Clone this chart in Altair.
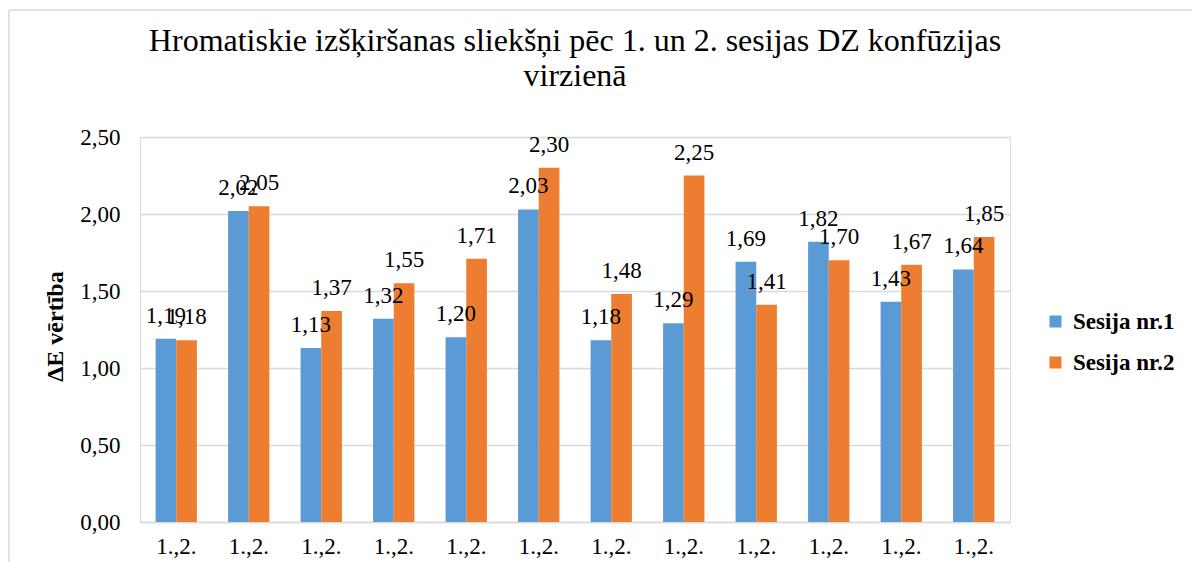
import altair as alt
import pandas as pd

categories = list(range(12))
cat_label = "1.,2."
series_names = ["Sesija nr.1", "Sesija nr.2"]
s1 = [1.19, 2.02, 1.13, 1.32, 1.20, 2.03, 1.18, 1.29, 1.69, 1.82, 1.43, 1.64]
s2 = [1.18, 2.05, 1.37, 1.55, 1.71, 2.30, 1.48, 2.25, 1.41, 1.70, 1.67, 1.85]
colors = ["#5B9BD5", "#ED7D31"]
title_lines = ["Hromatiskie izšķiršanas sliekšņi  pēc 1. un 2. sesijas DZ konfūzijas", "virzienā"]
y_title = "ΔE vērtība"

rows = []
for i, c in enumerate(categories):
    rows.append({"idx": c, "series": series_names[0], "value": s1[i]})
    rows.append({"idx": c, "series": series_names[1], "value": s2[i]})
df = pd.DataFrame(rows)
df["label"] = df["value"].map(lambda v: f"{v:.2f}".replace(".", ","))

FONT = "Liberation Serif, Times New Roman, serif"
W, H = 870, 385

base = alt.Chart(df).encode(
    x=alt.X(
        "idx:O",
        sort="ascending",
        scale=alt.Scale(paddingInner=0.43, paddingOuter=0.215),
        axis=alt.Axis(
            title=None, labelExpr=f"'{cat_label}'", labelAngle=0, ticks=False,
            domainColor="#D9D9D9", domainWidth=1.3, labelFont=FONT, labelFontSize=23,
            labelColor="#000000", labelPadding=13, grid=False,
        ),
    ),
    xOffset=alt.XOffset("series:N", sort=series_names, scale=alt.Scale(paddingInner=0, paddingOuter=0)),
)

bars = base.mark_bar().encode(
    y=alt.Y(
        "value:Q",
        scale=alt.Scale(domain=[0, 2.5], nice=False),
        axis=alt.Axis(
            values=[0, 0.5, 1.0, 1.5, 2.0, 2.5],
            labelExpr="replace(format(datum.value, '.2f'), '.', ',')",
            ticks=False, domain=False, gridColor="#D9D9D9", gridWidth=1.3,
            labelFont=FONT, labelFontSize=23, labelColor="#000000", labelPadding=20,
            title=y_title, titleFont=FONT, titleFontSize=24, titleFontWeight="bold",
            titleColor="#000000", titleX=-85, titleY=189, titleAngle=270,
            titleAlign="center", titleBaseline="middle",
        ),
    ),
    color=alt.Color(
        "series:N",
        sort=series_names,
        scale=alt.Scale(domain=series_names, range=colors),
        legend=alt.Legend(
            title=None, orient="none", legendX=904, legendY=173,
            symbolType="square", symbolSize=144, symbolStrokeWidth=0,
            labelFont=FONT, labelFontSize=23, labelFontWeight="bold",
            labelColor="#000000", labelOffset=6, rowPadding=17,
        ),
    ),
)

text = base.mark_text(
    baseline="alphabetic", dy=-16, fontSize=23, font=FONT, color="#000000"
).encode(y=alt.Y("value:Q"), text="label:N")

border_df = pd.DataFrame({"a": [0]})
left_border = alt.Chart(border_df).mark_rule(color="#D9D9D9", strokeWidth=1.5).encode(
    x=alt.value(-131), y=alt.value(-127), y2=alt.value(H + 60)
)
top_border = alt.Chart(border_df).mark_rule(color="#D9D9D9", strokeWidth=1.5).encode(
    x=alt.value(-131), x2=alt.value(W + 200), y=alt.value(-127)
)

chart = alt.layer(left_border, top_border, bars, text).properties(
    width=W, height=H,
    autosize=alt.AutoSizeParams(type="none"),
    padding={"left": 132, "top": 129, "right": 182, "bottom": 40},
    title=alt.TitleParams(
        text=title_lines, font=FONT, fontSize=32, fontWeight="normal",
        color="#000000", anchor="middle", frame="group", offset=-84, lineHeight=35,
    ),
).configure_view(strokeWidth=0).configure(background="white")

chart.save("out.html", embed_options={"renderer": "svg", "actions": False})
